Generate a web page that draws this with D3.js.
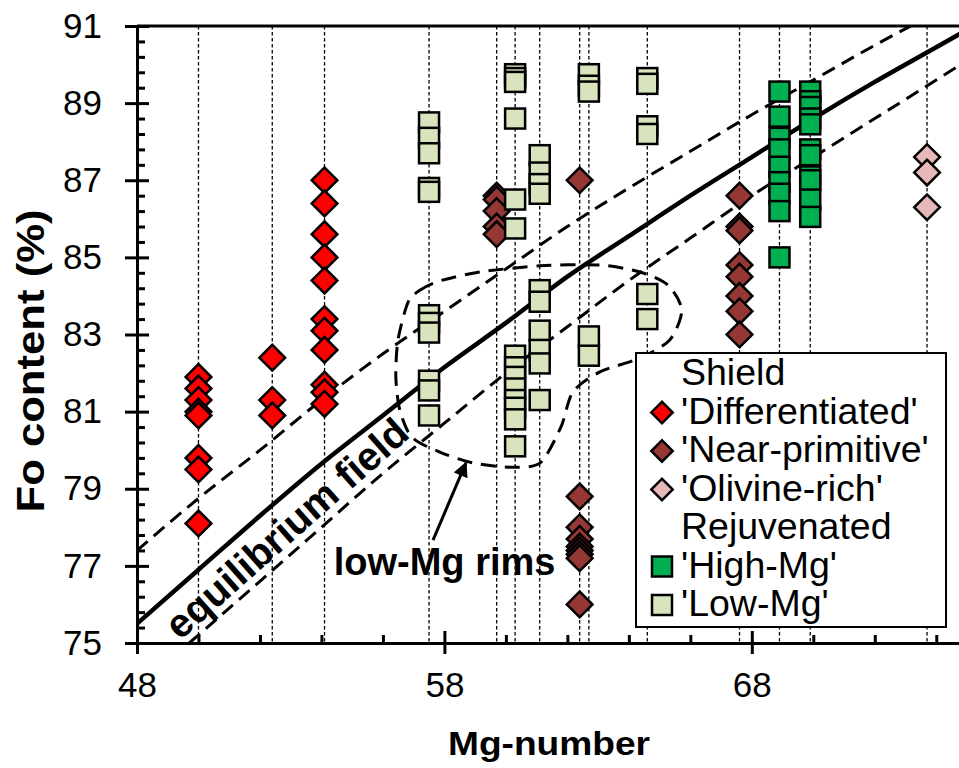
<!DOCTYPE html>
<html>
<head>
<meta charset="utf-8">
<script src="https://cdn.jsdelivr.net/npm/d3@7"></script>
<style>
  body { margin: 0; background: #fff; }
  svg { display: block; font-family: "Liberation Sans", Arial, sans-serif; }
  .axis path, .axis line { stroke: #000; stroke-width: 3px; }
  .axis text { font-size: 35px; fill: #000; font-family: "Liberation Sans", Arial, sans-serif; }
</style>
</head>
<body>
<svg id="chart" width="959" height="768"></svg>
<script>
// Shield samples: [Mg-number, Fo content]
var differentiated = [
  [50.0, 81.9], [50.0, 81.6], [50.0, 81.3], [50.0, 81.0], [50.0, 80.9],
  [50.0, 79.8], [50.0, 79.5], [50.0, 78.1],
  [52.4, 82.4], [52.4, 81.3], [52.4, 80.9],
  [54.1, 87.0], [54.1, 86.4], [54.1, 85.6], [54.1, 85.0], [54.1, 84.4],
  [54.1, 83.4], [54.1, 83.1], [54.1, 82.6], [54.1, 81.7], [54.1, 81.5], [54.1, 81.2]
];
var nearPrimitive = [
  [59.7, 86.6], [59.7, 86.5], [59.7, 86.2], [59.7, 85.8], [59.7, 85.6],
  [62.4, 87.0], [62.4, 78.8], [62.4, 78.0], [62.4, 77.7], [62.4, 77.5],
  [62.4, 77.4], [62.4, 77.3], [62.4, 77.2], [62.4, 76.0],
  [67.6, 86.6], [67.6, 85.8], [67.6, 85.7], [67.6, 84.8], [67.6, 84.5],
  [67.6, 84.0], [67.6, 83.6], [67.6, 83.0]
];
var olivineRich = [[73.7, 87.6], [73.7, 87.2], [73.7, 86.3]];

// Rejuvenated samples
var highMg = [
  [68.9, 89.3], [68.9, 88.65], [68.9, 88.1], [68.9, 87.8], [68.9, 87.35],
  [68.9, 86.95], [68.9, 86.65], [68.9, 86.2], [68.9, 85.0],
  [69.9, 89.3], [69.9, 89.05], [69.9, 88.9], [69.9, 88.6], [69.9, 88.45],
  [69.9, 87.8], [69.9, 87.65], [69.9, 87.1], [69.9, 87.0], [69.9, 86.5], [69.9, 86.05]
];
var lowMg = [
  [57.5, 88.5], [57.5, 88.1], [57.5, 87.7], [57.5, 86.8], [57.5, 86.7],
  [57.5, 83.5], [57.5, 83.3], [57.5, 83.05], [57.5, 81.8], [57.5, 81.55], [57.5, 80.9],
  [60.3, 89.75], [60.3, 89.65], [60.3, 89.55], [60.3, 88.6], [60.3, 86.5], [60.3, 85.75],
  [60.3, 82.45], [60.3, 82.15], [60.3, 81.9], [60.3, 81.6], [60.3, 81.3], [60.3, 81.1],
  [60.3, 80.8], [60.3, 80.1],
  [61.1, 87.65], [61.1, 87.2], [61.1, 86.9], [61.1, 86.65], [61.1, 84.15], [61.1, 83.85],
  [61.1, 83.1], [61.1, 82.6], [61.1, 82.25], [61.1, 81.3],
  [62.7, 89.75], [62.7, 89.45], [62.7, 89.3], [62.7, 82.95], [62.7, 82.45],
  [64.6, 89.65], [64.6, 89.5], [64.6, 88.4], [64.6, 88.2], [64.6, 84.05], [64.6, 83.4]
];

// Equilibrium curve and the two dashed bounds of the field
var equilibrium = [
  [48, 75.5], [50, 76.9], [52, 78.3], [54, 79.65], [56, 80.9], [58, 82.15], [60, 83.3],
  [62, 84.5], [64, 85.55], [66, 86.6], [68, 87.6], [70, 88.6], [72, 89.55], [74, 90.45], [75, 90.9]
];
var upperBound = [
  [48, 77.4], [50, 78.75], [52, 80.0], [54, 81.3], [56, 82.5], [58, 83.6], [60, 84.7],
  [62, 85.8], [64, 86.8], [66, 87.75], [68, 88.7], [70, 89.6], [72, 90.5], [74, 91.35]
];
var lowerBound = [
  [49.7, 75.0], [52, 76.6], [54, 78.0], [56, 79.4], [58, 80.7], [60, 82.0],
  [62, 83.2], [64, 84.4], [66, 85.5], [68, 86.6], [70, 87.6], [72, 88.6], [74, 89.6], [75, 90.1]
];

// Outline round the low-Mg rims
var rimOutline = [
  [56.81, 83.82], [57.2, 84.15], [57.85, 84.39], [59.15, 84.62], [61.11, 84.78],
  [63.06, 84.8], [64.36, 84.62], [65.27, 84.28], [65.72, 83.63], [65.33, 82.86],
  [64.36, 82.39], [63.06, 82.03], [62.18, 81.51], [61.79, 80.6], [61.11, 79.67],
  [60.13, 79.56], [58.93, 79.67], [57.85, 79.95], [56.94, 80.34], [56.55, 81.04],
  [56.42, 81.9], [56.49, 82.86]
];

var xMajor = [48, 58, 68];
var yMajor = [75, 77, 79, 81, 83, 85, 87, 89, 91];

var svg = d3.select("#chart");
var x = d3.scaleLinear().domain([48, 75]).range([137, 967]);
var y = d3.scaleLinear().domain([75, 91]).range([643, 26]);

svg.append("defs").append("clipPath").attr("id", "plot-clip")
  .append("rect")
    .attr("x", x(48)).attr("y", y(91))
    .attr("width", x(75) - x(48)).attr("height", y(75) - y(91));

svg.append("defs").append("marker")
    .attr("id", "arrow-head")
    .attr("viewBox", "0 0 10 10")
    .attr("refX", 9).attr("refY", 5)
    .attr("markerWidth", 5.5).attr("markerHeight", 5)
    .attr("markerUnits", "strokeWidth")
    .attr("orient", "auto")
  .append("path")
    .attr("d", "M0,0L10,5L0,10Z")
    .attr("fill", "#000");

var plot = svg.append("g").attr("clip-path", "url(#plot-clip)");

// dotted drop lines at every sample's Mg-number
var allPoints = differentiated.concat(nearPrimitive, olivineRich, highMg, lowMg);
var sampleX = Array.from(new Set(allPoints.map(function(d) { return d[0]; })));
plot.selectAll(".drop-line")
  .data(sampleX)
  .enter().append("line")
    .attr("class", "drop-line")
    .attr("x1", function(d) { return x(d); })
    .attr("x2", function(d) { return x(d); })
    .attr("y1", y(91))
    .attr("y2", y(75))
    .attr("stroke", "#000")
    .attr("stroke-width", 1.3)
    .attr("stroke-dasharray", "3.5,2.5");

var line = d3.line()
  .x(function(d) { return x(d[0]); })
  .y(function(d) { return y(d[1]); })
  .curve(d3.curveMonotoneX);

[upperBound, lowerBound].forEach(function(bound) {
  plot.append("path")
    .attr("d", line(bound))
    .attr("fill", "none")
    .attr("stroke", "#000")
    .attr("stroke-width", 3)
    .attr("stroke-dasharray", "14,8");
});

plot.append("path")
  .attr("d", line(equilibrium))
  .attr("fill", "none")
  .attr("stroke", "#000")
  .attr("stroke-width", 4.5);

plot.append("path")
  .attr("d", d3.line()
    .x(function(d) { return x(d[0]); })
    .y(function(d) { return y(d[1]); })
    .curve(d3.curveCardinalClosed.tension(0.2))(rimOutline))
  .attr("fill", "none")
  .attr("stroke", "#000")
  .attr("stroke-width", 3)
  .attr("stroke-dasharray", "15,9");

// plot frame
svg.append("line")
  .attr("x1", x(48)).attr("x2", x(75))
  .attr("y1", y(91)).attr("y2", y(91))
  .attr("stroke", "#000").attr("stroke-width", 3);

// axes: major ticks cross the axis line, minor ticks point inward
var yMinor = d3.range(75, 91, 0.4).filter(function(v) {
  return Math.abs(v - Math.round(v)) > 0.01 || Math.round(v) % 2 === 0;
});
var xMinor = d3.range(50, 75, 2).filter(function(v) { return xMajor.indexOf(v) < 0; });

svg.append("g").attr("class", "axis")
  .attr("transform", "translate(" + x(48) + ",0)")
  .call(d3.axisLeft(y).tickValues(yMajor).tickSize(12).tickSizeOuter(0).tickPadding(23));
svg.append("g").attr("class", "axis")
  .attr("transform", "translate(" + x(48) + ",0)")
  .call(d3.axisRight(y).tickValues(yMajor).tickSize(12).tickSizeOuter(0).tickFormat(""));
svg.append("g").attr("class", "axis")
  .attr("transform", "translate(" + x(48) + ",0)")
  .call(d3.axisRight(y).tickValues(yMinor).tickSize(8).tickSizeOuter(0).tickFormat(""));

svg.append("g").attr("class", "axis")
  .attr("transform", "translate(0," + y(75) + ")")
  .call(d3.axisBottom(x).tickValues(xMajor).tickSize(11).tickSizeOuter(0).tickPadding(18));
svg.append("g").attr("class", "axis")
  .attr("transform", "translate(0," + y(75) + ")")
  .call(d3.axisTop(x).tickValues(xMajor).tickSize(12).tickSizeOuter(0).tickFormat(""));
svg.append("g").attr("class", "axis")
  .attr("transform", "translate(0," + y(75) + ")")
  .call(d3.axisTop(x).tickValues(xMinor).tickSize(8).tickSizeOuter(0).tickFormat(""));

svg.selectAll(".axis .domain").attr("stroke-width", 3);

// markers
var diamond = d3.symbol().type(d3.symbolSquare).size(330);
function drawDiamonds(data, fill) {
  svg.append("g").selectAll("path")
    .data(data)
    .enter().append("path")
      .attr("d", diamond)
      .attr("transform", function(d) {
        return "translate(" + x(d[0]) + "," + y(d[1]) + ") rotate(45)";
      })
      .attr("fill", fill)
      .attr("stroke", "#000")
      .attr("stroke-width", 2.5);
}
function drawSquares(data, fill) {
  svg.append("g").selectAll("rect")
    .data(data)
    .enter().append("rect")
      .attr("x", function(d) { return x(d[0]) - 10; })
      .attr("y", function(d) { return y(d[1]) - 10; })
      .attr("width", 20)
      .attr("height", 20)
      .attr("fill", fill)
      .attr("stroke", "#000")
      .attr("stroke-width", 2.5);
}
drawDiamonds(differentiated, "#ff0000");
drawDiamonds(nearPrimitive, "#953735");
drawDiamonds(olivineRich, "#e6b9b8");
drawSquares(highMg, "#00b050");
drawSquares(lowMg, "#d7e4bd");

// annotations
svg.append("text")
  .attr("transform", "translate(" + x(49.4) + "," + y(75.05) + ") rotate(-41.5)")
  .attr("font-size", 40)
  .attr("font-weight", "bold")
  .text("equilibrium field");

svg.append("text")
  .attr("x", x(54.4))
  .attr("y", y(76.76))
  .attr("font-size", 38)
  .attr("font-weight", "bold")
  .text("low-Mg rims");

svg.append("line")
  .attr("x1", x(57.63)).attr("y1", y(77.67))
  .attr("x2", x(58.7)).attr("y2", y(79.67))
  .attr("stroke", "#000")
  .attr("stroke-width", 3)
  .attr("marker-end", "url(#arrow-head)");

// axis titles
svg.append("text")
  .attr("transform", "translate(44,361) rotate(-90)")
  .attr("text-anchor", "middle")
  .attr("font-size", 39)
  .attr("font-weight", "bold")
  .attr("textLength", 303)
  .attr("lengthAdjust", "spacingAndGlyphs")
  .text("Fo content (%)");

svg.append("text")
  .attr("x", 549)
  .attr("y", 755)
  .attr("text-anchor", "middle")
  .attr("font-size", 34)
  .attr("font-weight", "bold")
  .attr("textLength", 202)
  .attr("lengthAdjust", "spacingAndGlyphs")
  .text("Mg-number");

// legend
var legendItems = [
  { label: "Shield", shape: null },
  { label: "'Differentiated'", shape: "diamond", fill: "#ff0000" },
  { label: "'Near-primitive'", shape: "diamond", fill: "#953735" },
  { label: "'Olivine-rich'", shape: "diamond", fill: "#e6b9b8" },
  { label: "Rejuvenated", shape: null },
  { label: "'High-Mg'", shape: "square", fill: "#00b050" },
  { label: "'Low-Mg'", shape: "square", fill: "#d7e4bd" }
];

var legend = svg.append("g").attr("transform", "translate(636,353)");
legend.append("rect")
  .attr("width", 310)
  .attr("height", 274)
  .attr("fill", "#fff")
  .attr("stroke", "#000")
  .attr("stroke-width", 2);

var row = legend.selectAll(".legend-row")
  .data(legendItems)
  .enter().append("g")
    .attr("class", "legend-row")
    .attr("transform", function(d, i) { return "translate(0," + (32 + i * 38.5) + ")"; });

row.append("text")
  .attr("x", 45)
  .attr("font-size", 37.5)
  .text(function(d) { return d.label; });

row.filter(function(d) { return d.shape === "diamond"; })
  .append("path")
    .attr("d", d3.symbol().type(d3.symbolSquare).size(230))
    .attr("transform", "translate(26,-11) rotate(45)")
    .attr("fill", function(d) { return d.fill; })
    .attr("stroke", "#000")
    .attr("stroke-width", 2.5);

row.filter(function(d) { return d.shape === "square"; })
  .append("rect")
    .attr("x", 16).attr("y", -21)
    .attr("width", 20).attr("height", 20)
    .attr("fill", function(d) { return d.fill; })
    .attr("stroke", "#000")
    .attr("stroke-width", 2.5);
</script>
</body>
</html>
